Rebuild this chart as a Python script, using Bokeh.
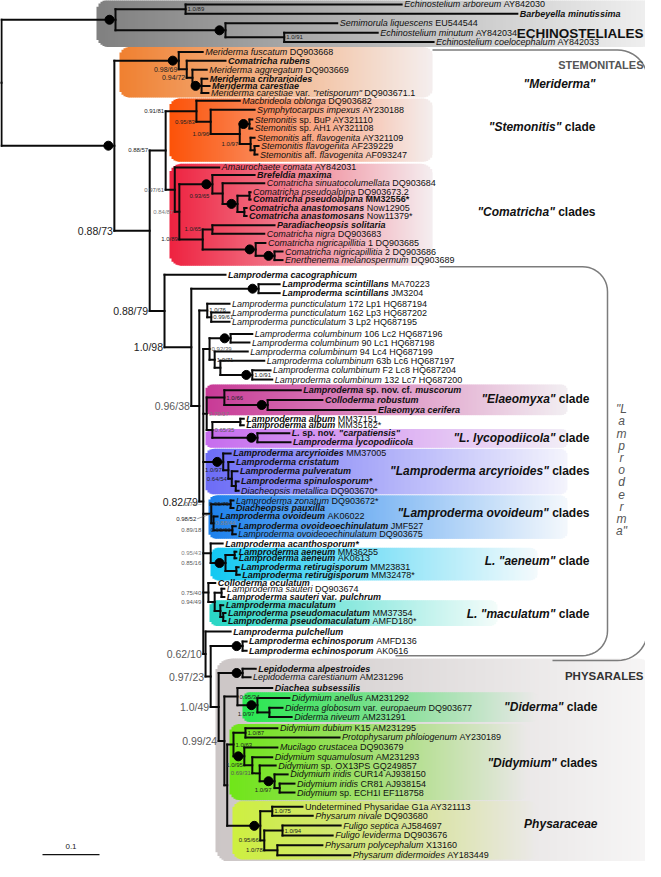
import math
from collections import defaultdict
from bokeh.plotting import figure
from bokeh.models import Range1d, ColumnDataSource
from bokeh.core.properties import value
from bokeh.embed import file_html
from bokeh.resources import INLINE

FONT = "Liberation Sans"

# ============================ DATA ============================
# markup: _ toggles italic, ~ toggles bold
TAXA = [
    "_Echinostelium arboreum_ AY842030", "~_Barbeyella minutissima_~", "_Semimorula liquescens_ EU544544",
    "_Echinostelium minutum_ AY842034", "_Echinostelium coelocephalum_ AY842033",
    "_Meriderma fuscatum_ DQ903668", "~_Comatricha rubens_~", "_Meriderma aggregatum_ DQ903669",
    "~_Meriderma cribrarioides_~", "~_Meriderma carestiae_~", '_Meriderma carestiae_ var. _"retisporum"_ DQ903671.1',
    "_Macbrideola oblonga_ DQ903682", "_Symphytocarpus impexus_ AY230188", "_Stemonitis_ sp. BuP AY321110",
    "_Stemonitis_ sp. AH1 AY321108", "_Stemonitis_ aff. _flavogenita_ AY321109", "_Stemonitis flavogenita_ AF239229",
    "_Stemonitis_ aff. _flavogenita_ AF093247",
    "_Amaurochaete comata_ AY842031", "~_Brefeldia maxima_~", "_Comatricha sinuatocolumellata_ DQ903684",
    "_Comatricha pseudoalpina_ DQ903673.2", "~_Comatricha pseudoalpina_ MM32556*~", "~_Comatricha anastomosans_~ Now12905",
    "~_Comatricha anastomosans_~ Now11379*", "~_Paradiacheopsis solitaria_~", "_Comatricha nigra_ DQ903683",
    "_Comatricha nigricapillitia_ 1 DQ903685", "_Comatricha nigricapillitia_ 2 DQ903686", "_Enerthenema melanospermum_ DQ903689",
    "~_Lamproderma cacographicum_~", "~_Lamproderma scintillans_~ MA70223", "~_Lamproderma scintillans_~ JM3204",
    "_Lamproderma puncticulatum_ 172 Lp1 HQ687194", "_Lamproderma puncticulatum_ 162 Lp3 HQ687202",
    "_Lamproderma puncticulatum_ 3 Lp2 HQ687195", "_Lamproderma columbinum_ 106 Lc2 HQ687196",
    "_Lamproderma columbinum_ 90 Lc1 HQ687198", "_Lamproderma columbinum_ 94 Lc4 HQ687199",
    "_Lamproderma columbinum_ 63b Lc6 HQ687197", "_Lamproderma columbinum_ F2 Lc8 HQ687204",
    "_Lamproderma columbinum_ 132 Lc7 HQ687200",
    "~_Lamproderma_ sp. nov. cf. _muscorum_~", "~_Colloderma robustum_~", "~_Elaeomyxa cerifera_~",
    "~_Lamproderma album_~ MM37151", "~_Lamproderma album_~ MM35162*", '~_L._ sp. nov. _"carpatiensis"_~',
    "~_Lamproderma lycopodiicola_~",
    "~_Lamproderma arcyrioides_~ MM37005", "~_Lamproderma cristatum_~", "~_Lamproderma pulveratum_~",
    "~_Lamproderma spinulosporum*_~", "_Diacheopsis metallica_ DQ903670*",
    "_Lamproderma zonatum_ DQ903672*", "~_Diacheopsis pauxilla_~", "~_Lamproderma ovoideum_~ AK06022",
    "~_Lamproderma ovoideoechinulatum_~ JMF527", "_Lamproderma ovoideoechinulatum_ DQ903675",
    "~_Lamproderma acanthosporum*_~", "~_Lamproderma aeneum_~ MM36255", "~_Lamproderma aeneum_~ AK0613",
    "~_Lamproderma retirugisporum_~ MM23831", "~_Lamproderma retirugisporum_~ MM32478*",
    "~_Colloderma oculatum_~", "_Lamproderma sauteri_ DQ903674", "~_Lamproderma sauteri_ var. _pulchrum_~",
    "~_Lamproderma maculatum_~", "~_Lamproderma pseudomaculatum_~ MM37354", "~_Lamproderma pseudomaculatum_~ AMFD180*",
    "~_Lamproderma pulchellum_~", "~_Lamproderma echinosporum_~ AMFD136", "~_Lamproderma echinosporum_~ AK0616",
    "~_Lepidoderma alpestroides_~", "_Lepidoderma carestianum_ AM231296", "~_Diachea subsessilis_~",
    "_Didymium anellus_ AM231292", "_Diderma globosum_ var. _europaeum_ DQ903677", "_Diderma niveum_ AM231291",
    "_Didymium dubium_ K15 AM231295", "_Protophysarum phloiogenum_ AY230189", "_Mucilago crustacea_ DQ903679",
    "_Didymium squamulosum_ AM231293", "_Didymium_ sp. OX13PS GQ249857", "_Didymium iridis_ CUR14 AJ938150",
    "_Didymium iridis_ CR81 AJ938154", "_Didymium_ sp. ECH1I EF118758",
    "Undetermined Physaridae G1a AY321113", "_Physarum nivale_ DQ903680", "_Fuligo septica_ AJ584697",
    "_Fuligo leviderma_ DQ903676", "_Physarum polycephalum_ X13160", "_Physarum didermoides_ AY183449",
]

TAXON_NODE = [
    "Eab", "Eab", "Esm", "Emc", "Emc",
    "M1", "M2", "M3", "M4", "M4", "M4",
    "ST0", "ST1", "ST3", "ST3", "ST4", "ST5", "ST5",
    "C1", "C3", "C3b", "C3d", "C3d", "C3e", "C3e", "C5", "C5", "C6", "C7", "C7",
    "LP", "Lsc", "Lsc", "Pu1", "Pu2", "Pu2", "Col1", "Col1", "Col2", "Col3", "Col4", "Col4",
    "El1", "El2", "El2", "Alb1", "Alb1", "Lyc1", "Lyc1",
    "Arc1", "Arc2", "Arc3", "Arc4", "Arc4",
    "O1", "O1", "O2", "O3", "O3",
    "AcA", "Ae1", "Ae1", "Ae2", "Ae2",
    "Q1", "Sau", "Sau", "Mac", "Mac2", "Mac2",
    "A1", "Echi", "Echi",
    "Lep", "Lep", "Dd0", "Dd1", "Dd2", "Dd2",
    "Dy2", "Dy2", "Dy3", "Dy5", "Dy6", "Dy7", "Dy8", "Dy8",
    "Ph1a", "Ph1a", "Ph1b", "Ph1b", "Ph2", "Ph2",
]

# tip depth (substitutions / site from root)
TAXON_DEPTH = [
    0.702, 0.905, 0.589, 0.660, 0.758,
    0.353, 0.393, 0.360, 0.361, 0.365, 0.363,
    0.418, 0.444, 0.440, 0.440, 0.444, 0.451, 0.449,
    0.382, 0.444, 0.461, 0.437, 0.437, 0.430, 0.430, 0.479, 0.461, 0.463, 0.493, 0.493,
    0.393, 0.488, 0.488, 0.400, 0.400, 0.400, 0.440, 0.435, 0.432, 0.461, 0.472, 0.475,
    0.525, 0.563, 0.656, 0.425, 0.425, 0.505, 0.507,
    0.402, 0.407, 0.414, 0.416, 0.416,
    0.407, 0.407, 0.379, 0.411, 0.411,
    0.388, 0.412, 0.412, 0.416, 0.418,
    0.375, 0.391, 0.391, 0.389, 0.393, 0.393,
    0.402, 0.430, 0.430,
    0.446, 0.437, 0.475, 0.505, 0.493, 0.509,
    0.484, 0.593, 0.484, 0.475, 0.481, 0.502, 0.514, 0.514,
    0.528, 0.546, 0.595, 0.581, 0.563, 0.612,
]

NODE_PARENT = {
    "E": "root", "Eab": "E", "Esm": "E", "Emc": "Esm",
    "S0": "root", "M1": "S0", "M2": "M1", "M3": "M2", "M4": "M3",
    "S1": "S0", "SC": "S1", "ST0": "SC", "ST1": "ST0", "ST2": "ST1", "ST3": "ST2", "ST4": "ST2", "ST5": "ST4",
    "C1": "SC", "C2": "C1", "C3": "C2", "C3b": "C3", "C3c": "C3b", "C3d": "C3c", "C3e": "C3c",
    "C4": "C2", "C5": "C4", "C6": "C4", "C7": "C6",
    "LP": "S1", "L1": "LP", "Lsc": "L1", "L2": "L1", "Pu1": "L2", "Pu2": "Pu1", "L3": "L2",
    "Col0": "L3", "Col1": "Col0", "Col2": "Col0", "Col3": "Col2", "Col4": "Col3",
    "El0": "L3", "El1": "El0", "El2": "El1", "Alb0": "El0", "Alb1": "Alb0", "Lyc1": "Alb0",
    "Arc1": "L3", "Arc2": "Arc1", "Arc3": "Arc2", "Arc4": "Arc3",
    "O0": "L3", "O1": "O0", "O2": "O0", "O3": "O2",
    "AcA": "L3", "Ae0": "AcA", "Ae1": "Ae0", "Ae2": "Ae0",
    "Q1": "L3", "Q2": "Q1", "Sau": "Q2", "Mac": "Q2", "Mac2": "Mac",
    "A1": "L3", "A2": "A1", "Echi": "A2", "A3": "A2", "Lep": "A3", "A4": "A3",
    "Dd0": "A4", "Dd1": "Dd0", "Dd2": "Dd1", "A5": "A4",
    "Dy1": "A5", "Dy2": "Dy1", "Dy3": "Dy1", "Dy5": "Dy3", "Dy6": "Dy5", "Dy7": "Dy6", "Dy8": "Dy7",
    "Ph0": "A5", "Ph1a": "Ph0", "PhB": "Ph0", "Ph1b": "PhB", "Ph2": "PhB",
}

NODE_DEPTH = {
    "root": 0.000, "E": 0.200, "Eab": 0.323, "Esm": 0.393, "Emc": 0.496,
    "S0": 0.198, "M1": 0.311, "M2": 0.325, "M3": 0.335, "M4": 0.351,
    "S1": 0.260, "SC": 0.288, "ST0": 0.342, "ST1": 0.367, "ST2": 0.418, "ST3": 0.435, "ST4": 0.437, "ST5": 0.444,
    "C1": 0.304, "C2": 0.312, "C3": 0.370, "C3b": 0.388, "C3c": 0.414, "C3d": 0.435, "C3e": 0.426,
    "C4": 0.353, "C5": 0.370, "C6": 0.446, "C7": 0.479,
    "LP": 0.286, "L1": 0.333, "Lsc": 0.451, "L2": 0.347, "Pu1": 0.361, "Pu2": 0.368, "L3": 0.354,
    "Col0": 0.365, "Col1": 0.402, "Col2": 0.374, "Col3": 0.384, "Col4": 0.440,
    "El0": 0.360, "El1": 0.391, "El2": 0.467, "Alb0": 0.370, "Alb1": 0.419, "Lyc1": 0.449,
    "Arc1": 0.389, "Arc2": 0.398, "Arc3": 0.404, "Arc4": 0.411,
    "O0": 0.368, "O1": 0.402, "O2": 0.372, "O3": 0.405,
    "AcA": 0.367, "Ae0": 0.393, "Ae1": 0.409, "Ae2": 0.412,
    "Q1": 0.363, "Q2": 0.374, "Sau": 0.386, "Mac": 0.384, "Mac2": 0.389,
    "A1": 0.358, "A2": 0.367, "Echi": 0.423, "A3": 0.381, "Lep": 0.423, "A4": 0.391,
    "Dd0": 0.414, "Dd1": 0.449, "Dd2": 0.470, "A5": 0.396,
    "Dy1": 0.407, "Dy2": 0.428, "Dy3": 0.426, "Dy5": 0.440, "Dy6": 0.453, "Dy7": 0.479, "Dy8": 0.488,
    "Ph0": 0.454, "Ph1a": 0.475, "PhB": 0.461, "Ph1b": 0.493, "Ph2": 0.484,
}

# nodes with full support (black dot on their stem)
DOT_NODES = ["E", "Esm", "S0", "M1", "M4", "ST3", "C3", "C3c", "C6", "C7", "Lsc", "Col1", "Col4",
             "El2", "Lyc1", "Arc1", "Ae0", "Echi", "Lep", "Dd1", "Dy3", "Dy7", "Ph0"]

# posterior probability / bootstrap values
SUPPORT_NODE = ["Eab", "Emc", "M2", "M3", "S1", "SC", "ST0", "ST1", "ST2", "ST4",
                "C1", "C2", "C3", "C4", "C5", "LP", "L1", "L2", "Pu1", "Pu2",
                "Col0", "Col2", "Col4", "L3", "El0", "El1", "Alb0", "Arc2", "Arc3", "O1",
                "O1", "O0", "O2", "O3", "O3", "AcA", "Ae0", "Sau", "Q2", "A1",
                "A2", "A3", "A4", "Dd0", "Dd1", "Dy2", "Dy1", "Dy5", "Dy6", "Dy7",
                "Ph1a", "Ph1b", "PhB", "Ph2"]
SUPPORT_VALUE = ["1.0/89", "1.0/91", "0.98/69", "0.94/72", "0.88/73", "0.88/57", "0.91/81", "0.95/83", "1.0/96", "1.0/97",
                 "0.97/61", "0.84/87", "0.93/65", "1.0/89", "1.0/65", "0.88/79", "1.0/98", "0.96/38", "1.0/76", "0.99/61",
                 "0.92/39", "1.0/71", "1.0/91", "0.82/79", "0.79/17", "1.0/66", "0.65/35", "1.0/97", "0.64/54", "0.95/79",
                 "0.71/\u2013", "0.98/52", "0.88/44", "0.99/60", "0.89/18", "0.95/43", "0.85/16", "0.75/40", "0.94/49", "0.62/10",
                 "0.97/23", "1.0/49", "0.99/24", "0.95/34", "1.0/97", "1.0/87", "1.0/63", "1.0/95", "0.69/31", "1.0/97",
                 "1.0/75", "1.0/94", "0.95/66", "1.0/78"]
SUPPORT_PLACE = ["right", "right", "stem", "stem", "stem", "stem", "stem", "stem", "stem", "stem",
                 "stem", "stem", "below", "stem", "stem", "stem", "stem", "stem", "right", "right",
                 "right", "right", "right", "stem", "right", "right", "right", "stem", "stem", "left",
                 "margin", "margin2", "right", "left", "margin", "margin", "margin", "margin", "margin", "stem",
                 "stem", "stem", "stem", "right", "below", "right", "right", "stem", "stem", "below",
                 "right", "right", "stem", "stem"]
SUPPORT_SIZE = ["s", "s", "m", "m", "L", "s", "s", "s", "s", "s",
                "s", "s", "s", "s", "s", "L", "L", "L", "s", "s",
                "s", "s", "s", "L", "s", "s", "s", "s", "s", "s",
                "s", "s", "s", "s", "s", "s", "s", "s", "s", "L",
                "L", "L", "L", "s", "s", "s", "s", "s", "s", "s",
                "s", "s", "s", "s"]
SUPPORT_TONE = ["k", "k", "k", "k", "k", "k", "k", "k", "k", "k",
                "g", "lg", "k", "k", "k", "k", "k", "g", "k", "k",
                "g", "k", "k", "k", "lg", "k", "g", "k", "k", "k",
                "g", "k", "lg", "k", "g", "lg", "g", "g", "g", "g",
                "g", "g", "g", "k", "k", "k", "k", "k", "g", "k",
                "k", "k", "k", "k"]

ORDER_NAMES = ["ECHINOSTELIALES", "STEMONITALES", "PHYSARALES"]
CLADE_NAMES = ['~_"Meriderma"_~', '~_"Stemonitis"_ clade~', '~_"Comatricha"_ clades~',
               '~_"Elaeomyxa"_ clade~', '~_"L. lycopodiicola"_ clade~', '~_"Lamproderma arcyrioides"_ clades~',
               '~_"Lamproderma ovoideum"_ clades~', '~_L. "aeneum"_ clade~', '~_L. "maculatum"_ clade~',
               '~_"Diderma"_ clade~', '~_"Didymium"_ clades~', '~_Physaraceae_~']
GENUS_BRACKET = ['"L', 'a', 'm', 'p', 'r', 'o', 'd', 'e', 'r', 'm', 'a"']
SCALE_BAR = 0.1

# ============================ LAYOUT ============================
ROW_Y = [7, 16.5, 26, 35.5, 45,
         55, 64, 73, 82, 89.5, 96.5,
         104.3, 113.3, 123.3, 132.3, 141.7, 150, 158.7,
         171.7, 179.3, 187.7, 196.7, 204, 212.7, 220.7, 230, 238.7, 248, 256.7, 265.3,
         280, 289.7, 298.7, 309.3, 318.3, 327.7, 340, 348.7, 357.7, 367, 376.7, 386,
         396.7, 406.7, 416.7, 425.7, 432.3, 440.3, 449.3,
         460.7, 469.3, 478.7, 489, 498.3,
         508.3, 515.7, 524.3, 534.3, 542.3,
         551.7, 560, 566.7, 575.7, 583.3,
         591.7, 597.3, 605.7, 614, 622, 630,
         640.7, 650.7, 660,
         678.3, 686.7, 697.7, 707.7, 717.7, 727,
         738.3, 747.7, 757.7, 767.7, 776, 785, 794.3, 803.3,
         817.7, 826.7, 836.7, 846.7, 856.7, 866.7]

PX_PER_UNIT = 570.0   # 0.1 substitutions = 57 px
ROOT_PX = 9.0


def X(px):
    return (px - ROOT_PX) / PX_PER_UNIT


PX = 1.0 / PX_PER_UNIT

ORDER_POS = [(651, 36, 13.5, "#111111"), (651, 68, 11, "#555555"), (651, 686, 11.5, "#333333")]
CLADE_POS = [(603, 87), (603, 131), (603, 217), (597, 406), (597, 445), (597, 478),
             (597, 521), (597, 569), (597, 623), (605, 717), (605, 773), (605, 835)]

# boxes: left, right, top, bottom (px), start colour, end colour (None = fade into Physarales), radius
BOXES = [
    (104, 661, 2, 50, (128, 128, 128), (240, 240, 240), 12),
    (127, 440, 50, 101, (240, 128, 48), (244, 238, 238), 10),
    (177, 440, 102, 166, (252, 82, 8), (244, 238, 238), 10),
    (177, 440, 168, 271, (238, 34, 64), (244, 238, 240), 12),
    (213, 575, 391, 422, (200, 58, 150), (242, 238, 242), 7),
    (213, 575, 436, 455, (198, 108, 238), (242, 238, 246), 6),
    (213, 575, 456, 502, (108, 108, 246), (244, 244, 252), 8),
    (216, 575, 503, 547, (28, 128, 236), (244, 248, 252), 8),
    (218, 545, 556, 589, (18, 200, 242), (244, 250, 252), 8),
    (217, 505, 609, 635, (40, 214, 196), (244, 252, 250), 8),
    (223, 661, 668, 874, (204, 198, 198), (247, 246, 246), 16),
    (250, 545, 702, 732, (40, 232, 80), None, 7),
    (237, 535, 734, 811, (112, 230, 24), None, 10),
    (240, 545, 812, 871, (206, 240, 64), None, 10),
]

# ============================ FIGURE ============================
p = figure(width=645, height=861, x_range=Range1d(X(8), X(653)), y_range=Range1d(873, 3),
           output_backend="svg", toolbar_location=None, min_border=0,
           x_axis_location=None, y_axis_location=None)
p.xgrid.visible = False
p.ygrid.visible = False
p.outline_line_color = None
p.background_fill_color = "white"
p.border_fill_color = "white"

PHYS = BOXES[10]


def lerp(c0, c1, t):
    return tuple(c0[k] + (c1[k] - c0[k]) * t for k in range(3))


def phys_col(px):
    t = min(max((px - PHYS[0]) / (PHYS[1] - PHYS[0]), 0.0), 1.0)
    return lerp(PHYS[4], PHYS[5], t)


def hexc(c):
    return "#%02x%02x%02x" % tuple(int(round(v)) for v in c)


for (l, r, t, b, c0, c1, rad) in BOXES:
    L, R, T, B, C = [], [], [], [], []
    step = 2.0
    x = l
    while x < r - 1e-6:
        xb = min(x + step, r)
        xc = 0.5 * (x + xb)
        d = min(xc - l, r - xc)
        inset = 0.0
        if d < rad:
            inset = rad - math.sqrt(max(rad * rad - (rad - d) ** 2, 0.0))
        tt = (xc - l) / (r - l)
        end = c1 if c1 is not None else phys_col(xc)
        C.append(hexc(lerp(c0, end, tt)))
        L.append(X(x))
        R.append(X(min(xb + 0.7, r)))
        T.append(t + inset)
        B.append(b - inset)
        x = xb
    p.quad(left=L, right=R, top=T, bottom=B, fill_color=C, line_color=None)


# ----- rounded brackets
def bracket(x0, y_top, x_right, y_bot, x_end, rad):
    xs, ys = [x0, x_right - rad], [y_top, y_top]
    for k in range(13):
        a = math.radians(-90 + 90 * k / 12)
        xs.append(x_right - rad + rad * math.cos(a)); ys.append(y_top + rad + rad * math.sin(a))
    for k in range(13):
        a = math.radians(90 * k / 12)
        xs.append(x_right - rad + rad * math.cos(a)); ys.append(y_bot - rad + rad * math.sin(a))
    xs.append(x_end); ys.append(y_bot)
    p.line([X(v) for v in xs], ys, line_color="#7c7c7c", line_width=1.5)


bracket(440, 53, 655, 670, 560, 30)
bracket(447, 272, 615, 665, 403, 25)

# ----- tree geometry
children = defaultdict(list)
for n, par in NODE_PARENT.items():
    children[par].append(("n", n))
for i, par in enumerate(TAXON_NODE):
    children[par].append(("t", i))

node_y = {}


def ny(n):
    if n in node_y:
        return node_y[n]
    ys = [ROW_Y[c] if k == "t" else ny(c) for k, c in children[n]]
    node_y[n] = 0.5 * (min(ys) + max(ys))
    return node_y[n]


for n in NODE_DEPTH:
    ny(n)

sx0, sx1, sy0, sy1 = [], [], [], []
for n, par in NODE_PARENT.items():          # stems of internal nodes
    sx0.append(NODE_DEPTH[par]); sx1.append(NODE_DEPTH[n]); sy0.append(node_y[n]); sy1.append(node_y[n])
for i, par in enumerate(TAXON_NODE):        # terminal branches
    sx0.append(NODE_DEPTH[par]); sx1.append(TAXON_DEPTH[i]); sy0.append(ROW_Y[i]); sy1.append(ROW_Y[i])
for n in NODE_DEPTH:                        # verticals
    ys = [ROW_Y[c] if k == "t" else node_y[c] for k, c in children[n]]
    sx0.append(NODE_DEPTH[n]); sx1.append(NODE_DEPTH[n]); sy0.append(min(ys)); sy1.append(max(ys))
sx0.append(-6 * PX); sx1.append(0.0); sy0.append(node_y["root"]); sy1.append(node_y["root"])
p.segment(x0=sx0, y0=sy0, x1=sx1, y1=sy1, line_color="#0a0a0a", line_width=2, line_cap="square")

p.scatter(x=[NODE_DEPTH[n] - 6 * PX for n in DOT_NODES], y=[node_y[n] for n in DOT_NODES],
          size=9, marker="circle", fill_color="#000000", line_color="#000000")

# scale bar
sb_x0 = X(50)
p.segment(x0=[sb_x0], x1=[sb_x0 + SCALE_BAR], y0=[866], y1=[866], line_color="#111111", line_width=1.3)

# ============================ TEXT ============================
REG_LO = [556, 556, 500, 556, 556, 278, 556, 556, 222, 222, 500, 222, 833, 556, 556, 556, 556, 333, 500, 278, 556, 500, 722, 500, 500, 500]
REG_UP = [667, 667, 722, 722, 667, 611, 778, 722, 278, 500, 667, 556, 833, 722, 778, 667, 778, 722, 667, 611, 722, 667, 944, 667, 667, 611]
BLD_LO = [556, 611, 556, 611, 556, 333, 611, 611, 278, 278, 556, 278, 889, 611, 611, 611, 611, 389, 556, 333, 611, 556, 778, 556, 556, 500]
BLD_UP = [722, 722, 722, 722, 667, 611, 778, 722, 278, 556, 722, 611, 833, 722, 778, 667, 778, 722, 667, 611, 722, 667, 944, 667, 667, 611]
REG_P = {" ": 278, ".": 278, '"': 355, "*": 389, "-": 333, "/": 278, "\u2013": 556, ",": 278}
BLD_P = {" ": 278, ".": 278, '"': 474, "*": 389, "-": 333, "/": 278, "\u2013": 556, ",": 278}


def cw(ch, bold):
    if "a" <= ch <= "z":
        return (BLD_LO if bold else REG_LO)[ord(ch) - 97]
    if "A" <= ch <= "Z":
        return (BLD_UP if bold else REG_UP)[ord(ch) - 65]
    if ch.isdigit():
        return 556
    return (BLD_P if bold else REG_P).get(ch, 556)


def tw(s, bold, size):
    return sum(cw(c, bold) for c in s) * size / 1000.0


groups = defaultdict(lambda: {"x": [], "y": [], "text": [], "xo": []})


def put(x, y, s, xo, style, size, color, align="left"):
    g = groups[(style, size, color, align)]
    g["x"].append(x); g["y"].append(y); g["text"].append(s); g["xo"].append(xo)


def parse(m):
    segs, it, bd, buf = [], False, False, ""
    for ch in m:
        if ch in "_~":
            if buf:
                segs.append((buf, it, bd)); buf = ""
            if ch == "_":
                it = not it
            else:
                bd = not bd
        else:
            buf += ch
    if buf:
        segs.append((buf, it, bd))
    return segs


def rich(x, y, markup, size, color, xo0=0.0, anchor="left"):
    items, cur = [], 0.0
    for s, it, bd in parse(markup):
        lead = len(s) - len(s.lstrip(" "))
        trail = len(s) - len(s.rstrip(" "))
        core = s.strip(" ")
        cur += lead * cw(" ", bd) * size / 1000.0
        if core:
            items.append((core, cur, it, bd))
            cur += tw(core, bd, size)
        cur += trail * cw(" ", bd) * size / 1000.0
    shift = xo0 - (cur if anchor == "right" else 0.0)
    for core, off, it, bd in items:
        style = ("bold " if bd else "") + ("italic" if it else "")
        style = style.strip() or "normal"
        put(x, y, core, shift + off, style, size, color)


for i, m in enumerate(TAXA):
    rich(TAXON_DEPTH[i], ROW_Y[i], m, 9, "#111111", xo0=2.5)

SIZE = {"s": 6, "m": 7, "L": 10.5}
TONE = {"k": "#222222", "g": "#5a5a5a", "lg": "#808080"}
for n, v, place, sz, tone in zip(SUPPORT_NODE, SUPPORT_VALUE, SUPPORT_PLACE, SUPPORT_SIZE, SUPPORT_TONE):
    size, col = SIZE[sz], TONE[tone]
    if place == "stem":
        put(NODE_DEPTH[NODE_PARENT[n]], node_y[n], v, -1.5, "normal", size, col, "right")
    elif place == "right":
        put(NODE_DEPTH[n], node_y[n], v, 2.0, "normal", size, col, "left")
    elif place == "left":
        put(NODE_DEPTH[n], node_y[n], v, -1.5, "normal", size, col, "right")
    elif place == "below":
        ys = [ROW_Y[c] if k == "t" else node_y[c] for k, c in children[n]]
        put(NODE_DEPTH[n], max(ys) + 2.0, v, -3.0, "normal", size, col, "right")
    elif place == "margin":
        put(NODE_DEPTH["L3"], node_y[n], v, -2.0, "normal", size, col, "right")
    elif place == "margin2":
        put(NODE_DEPTH["L3"], node_y[n] + 5, v, -7.0, "normal", size, col, "right")
        p.segment(x0=[NODE_DEPTH["L3"] - 6 * PX], y0=[node_y[n] + 5], x1=[NODE_DEPTH[n]], y1=[node_y[n]],
                  line_color="#555555", line_width=0.6)

for name, (xr, y, size, col) in zip(ORDER_NAMES, ORDER_POS):
    put(X(xr), y, name, 0.0, "bold", size, col, "right")

for name, (xr, y) in zip(CLADE_NAMES, CLADE_POS):
    rich(X(xr), y, name, 12, "#111111", anchor="right")

for k, ch in enumerate(GENUS_BRACKET):
    put(X(629), 416 + 12.3 * k, ch, 0.0, "italic", 12, "#555555", "center")

put(sb_x0 + SCALE_BAR / 2, 858, "0.1", 0.0, "normal", 8, "#222222", "center")

for (style, size, color, align), g in groups.items():
    p.text(x="x", y="y", text="text", x_offset="xo", source=ColumnDataSource(g),
           text_font=value(FONT), text_font_size=value("%gpx" % size), text_font_style=value(style),
           text_color=color, text_align=align, text_baseline="middle")

open("out.html", "w").write(file_html(p, INLINE))
